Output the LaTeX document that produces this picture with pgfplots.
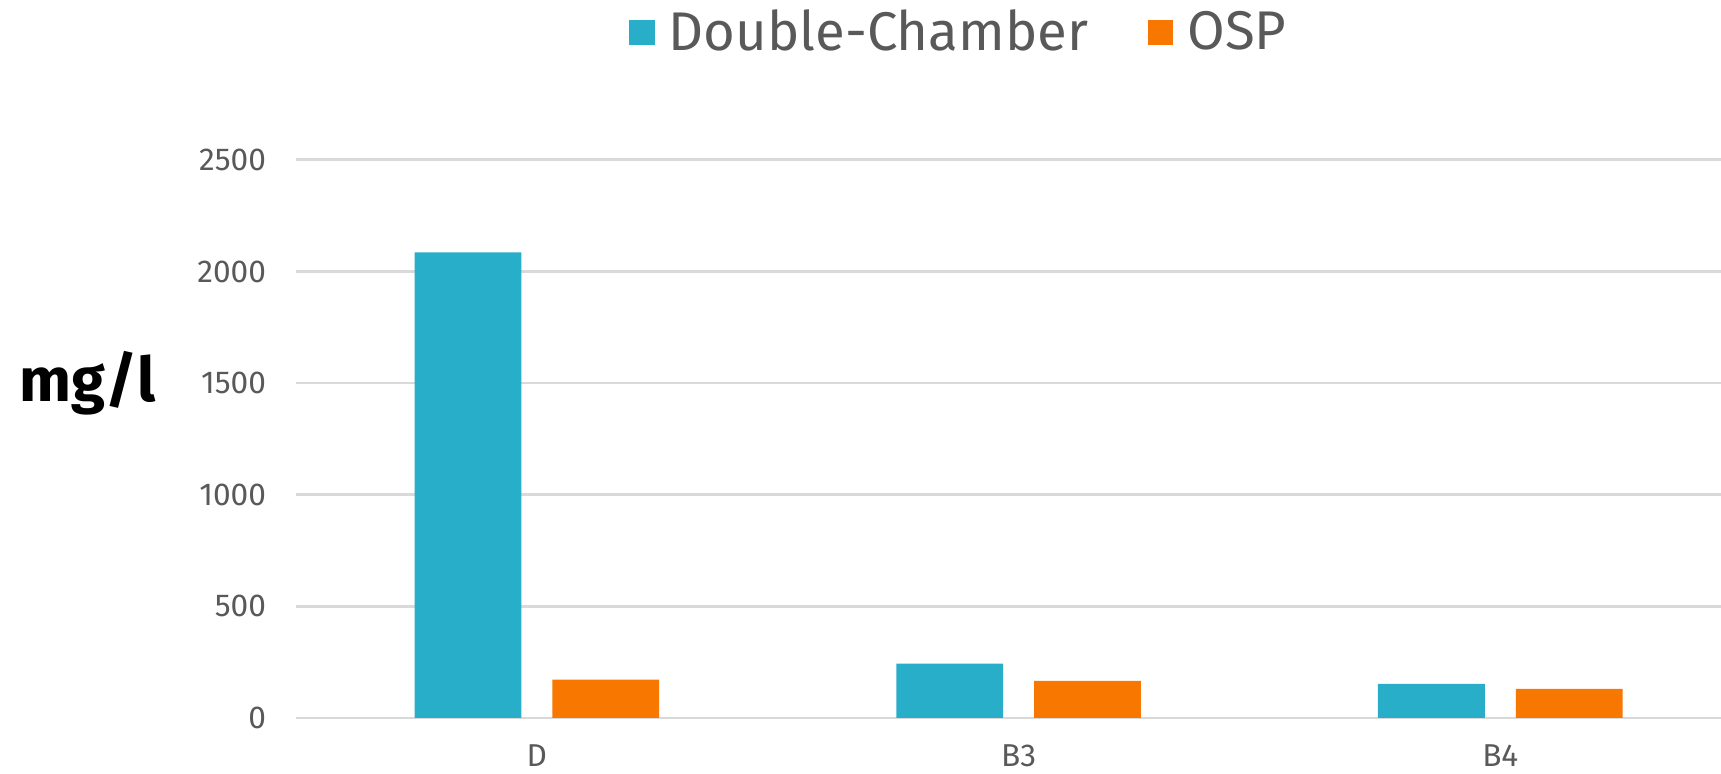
\documentclass[border=0pt]{standalone}
\usepackage{pgfplots}
\pgfplotsset{compat=1.18}
\usepackage{fontspec}
\setmainfont{Fira Sans}
\definecolor{cblue}{HTML}{29AECA}
\definecolor{corange}{HTML}{F77700}
\definecolor{tgray}{HTML}{595959}
\definecolor{ggray}{HTML}{D9D9D9}
\begin{document}
\begin{tikzpicture}[x=0.2845pt,y=0.2845pt]
\useasboundingbox (-296,-56) rectangle (1425,718);
\begin{axis}[
  at={(0,0)}, anchor=south west,
  scale only axis,
  width=405.4pt, height=158.8pt,
  ybar, bar width=30.4pt, bar shift auto,
  xmin=-0.5, xmax=2.458,
  ymin=0, ymax=2500,
  ytick={0,500,1000,1500,2000,2500},
  xtick=data, xticklabels={D,B3,B4},
  axis line style={draw=none},
  axis x line*=bottom,
  x axis line style={draw=ggray, line width=0.8pt},
  major tick length=0pt,
  ymajorgrids, grid style={ggray, line width=0.8pt},
  tick label style={font=\fontsize{9}{11}\selectfont, text=tgray},
  /pgf/number format/assume math mode=true,
  /pgf/number format/1000 sep={},
  yticklabel style={xshift=-5pt},
  xticklabel style={yshift=-4pt},
  ylabel={\textbf{mg/l}},
  ylabel style={rotate=-90, at={(axis description cs:-0.146,0.6)}, anchor=center, font=\fontsize{17.5}{20}\selectfont},
  legend columns=2,
  legend style={at={(0.467,1.228)}, anchor=center, draw=none, fill=none,
    font=\fontsize{15.5}{18}\selectfont, text=tgray,
    /tikz/every odd column/.append style={column sep=2pt},
    /tikz/every even column/.append style={column sep=15pt}},
  legend image code/.code={\fill[#1] (0pt,-3.6pt) rectangle (7.2pt,3.6pt);},
]
\addplot[fill=cblue, draw=none, bar shift=-19.6pt] coordinates {(0,2085) (1,243) (2,153)};
\addlegendentry{Double-Chamber}
\addplot[fill=corange, draw=none, bar shift=19.6pt] coordinates {(0,172) (1,166) (2,130)};
\addlegendentry{OSP}
\end{axis}
\end{tikzpicture}
\end{document}
